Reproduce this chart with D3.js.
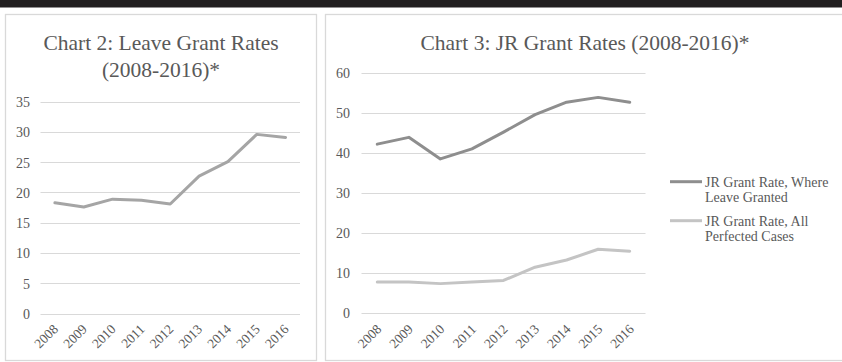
<!DOCTYPE html>
<html>
<head>
<meta charset="utf-8">
<script src="https://cdn.jsdelivr.net/npm/d3@7/dist/d3.min.js"></script>
<style>
  html, body { margin: 0; padding: 0; background: #ffffff; }
  svg { display: block; }
  text { font-family: "Liberation Serif", "Times New Roman", serif; fill: #595959; }
</style>
</head>
<body>
<svg id="chart" width="842" height="362"></svg>
<script>
// Years shown on both charts
const years = ["2008", "2009", "2010", "2011", "2012", "2013", "2014", "2015", "2016"];

// Chart 2: leave grant rate (%)
const leaveGrantRate = [18.3, 17.6, 18.9, 18.7, 18.1, 22.7, 25.1, 29.6, 29.1];

// Chart 3: JR grant rates (%)
const jrWhereLeaveGranted = [42.2, 43.9, 38.5, 41.0, 45.2, 49.6, 52.7, 53.9, 52.7];
const jrAllPerfected = [7.7, 7.7, 7.3, 7.7, 8.1, 11.4, 13.2, 15.9, 15.4];

// Axis ticks
const leaveTicks = [0, 5, 10, 15, 20, 25, 30, 35];
const jrTicks = [0, 10, 20, 30, 40, 50, 60];

// Legend labels (each wrapped on two lines)
const jrSeriesNames = [
  ["JR Grant Rate, Where", "Leave Granted"],
  ["JR Grant Rate, All", "Perfected Cases"]
];

const svg = d3.select("#chart");
const gridColor = "#d9d9d9";
const textColor = "#595959";

// Dark band along the top edge
svg.append("rect").attr("x", 0).attr("y", 0).attr("width", 842).attr("height", 7.5).attr("fill", "#221f20");

// Panel frames
svg.append("rect").attr("x", 5.5).attr("y", 14.5).attr("width", 311).attr("height", 346)
  .attr("fill", "#fff").attr("stroke", gridColor).attr("stroke-width", 1.3);
svg.append("rect").attr("x", 325.5).attr("y", 14.5).attr("width", 530).attr("height", 346)
  .attr("fill", "#fff").attr("stroke", gridColor).attr("stroke-width", 1.3);

function drawPanel(opts) {
  const g = svg.append("g");
  const x = d3.scalePoint().domain(years).range(opts.xRange).padding(0.5);
  const y = d3.scaleLinear().domain([0, d3.max(opts.ticks)]).range(opts.yRange);

  // Horizontal gridlines
  g.append("g").selectAll("line").data(opts.ticks).join("line")
    .attr("x1", opts.xRange[0]).attr("x2", opts.xRange[1])
    .attr("y1", d => Math.round(y(d)) + 0.5).attr("y2", d => Math.round(y(d)) + 0.5)
    .attr("stroke", gridColor).attr("stroke-width", 1);

  // Y axis labels
  const yAxis = d3.axisLeft(y).tickValues(opts.ticks).tickSize(0).tickPadding(0);
  const ya = g.append("g").attr("transform", `translate(${opts.yLabelX},0)`).call(yAxis);
  ya.select(".domain").remove();
  ya.selectAll("text").attr("font-size", 14).attr("fill", textColor)
    .attr("font-family", "Liberation Serif").attr("dy", "0.35em");

  // X axis labels, rotated
  const xAxis = d3.axisBottom(x).tickSize(0).tickPadding(0);
  const xa = g.append("g").attr("transform", `translate(0,${opts.xLabelY})`).call(xAxis);
  xa.select(".domain").remove();
  xa.selectAll("text")
    .attr("font-size", 13.5).attr("fill", textColor).attr("font-family", "Liberation Serif")
    .attr("text-anchor", "end").attr("dy", 0).attr("y", 0)
    .attr("transform", `translate(${opts.xLabelShift},0) rotate(-45)`);

  // Series lines
  opts.series.forEach(s => {
    const line = d3.line().x((d, i) => x(years[i])).y(d => y(d));
    g.append("path").datum(s.values)
      .attr("d", line).attr("fill", "none")
      .attr("stroke", s.color).attr("stroke-width", 3)
      .attr("stroke-linejoin", "round").attr("stroke-linecap", "round");
  });

  // Title
  opts.title.forEach((t, i) => {
    g.append("text").attr("x", opts.titleX).attr("y", 50 + i * 26.5)
      .attr("text-anchor", "middle").attr("font-size", 21.5).attr("fill", textColor)
      .text(t);
  });
  return { x, y };
}

drawPanel({
  xRange: [40.5, 300],
  yRange: [313.5, 101.7],
  ticks: leaveTicks,
  yLabelX: 30,
  xLabelY: 330,
  xLabelShift: 3.5,
  title: ["Chart 2: Leave Grant Rates", "(2008-2016)*"],
  titleX: 161,
  series: [{ values: leaveGrantRate, color: "#a5a5a5" }]
});

const jrColors = ["#8e8e8e", "#c4c4c4"];
drawPanel({
  xRange: [361.5, 645.5],
  yRange: [312.8, 73],
  ticks: jrTicks,
  yLabelX: 350,
  xLabelY: 330,
  xLabelShift: 4.5,
  title: ["Chart 3: JR Grant Rates (2008-2016)*"],
  titleX: 585,
  series: [
    { values: jrWhereLeaveGranted, color: jrColors[0] },
    { values: jrAllPerfected, color: jrColors[1] }
  ]
});

// Legend
const legend = svg.append("g");
const legendY = [181.7, 220.7];
jrSeriesNames.forEach((lines, i) => {
  const row = legend.append("g").attr("transform", `translate(0,${legendY[i]})`);
  row.append("line").attr("x1", 670).attr("x2", 702).attr("y1", 0).attr("y2", 0)
    .attr("stroke", jrColors[i]).attr("stroke-width", 3);
  lines.forEach((t, j) => {
    row.append("text").attr("x", 705).attr("y", 5 + j * 15)
      .attr("font-size", 14).attr("fill", textColor).text(t);
  });
});
</script>
</body>
</html>
